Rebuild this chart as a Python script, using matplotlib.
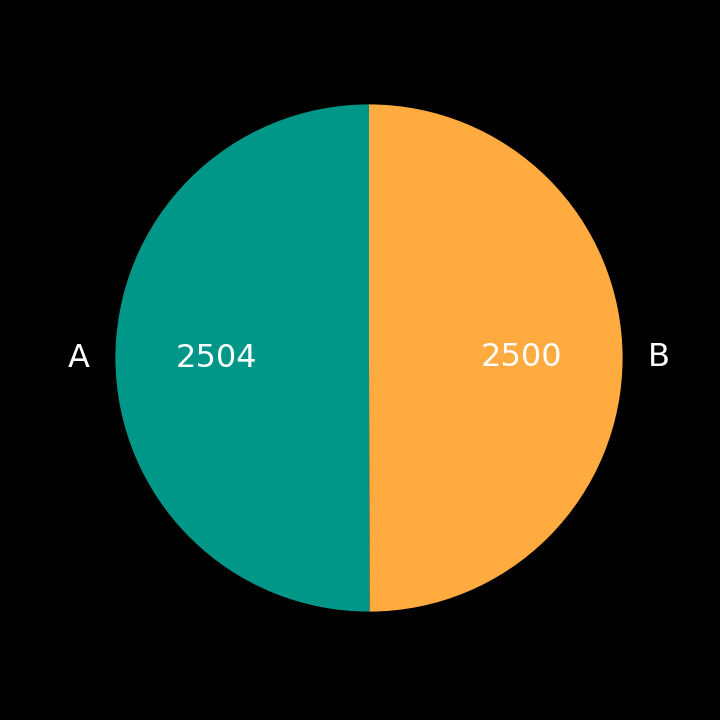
import matplotlib
matplotlib.use("Agg")
from matplotlib import pyplot as plt

# dados do gráfico
labels = ["A", "B"]
values = [2504, 2500]
colors = ["#009688", "#FFAB40"]

fig = plt.figure(figsize=(7.2, 7.2), dpi=100, facecolor="black")
ax = fig.add_axes([52 / 720, 45 / 720, 634 / 720, 634 / 720])
ax.set_facecolor("black")

wedges, texts, autotexts = ax.pie(
    values,
    labels=labels,
    colors=colors,
    startangle=90,
    autopct=lambda p: "%d" % round(p * sum(values) / 100.0),
    pctdistance=0.6,
    labeldistance=1.1,
    textprops={"color": "white", "fontsize": 23},
)

ax.set_xlim(-1.25, 1.25)
ax.set_ylim(-1.25, 1.25)
ax.set_aspect("equal")

fig.savefig("out.png", dpi=100, facecolor="black")
